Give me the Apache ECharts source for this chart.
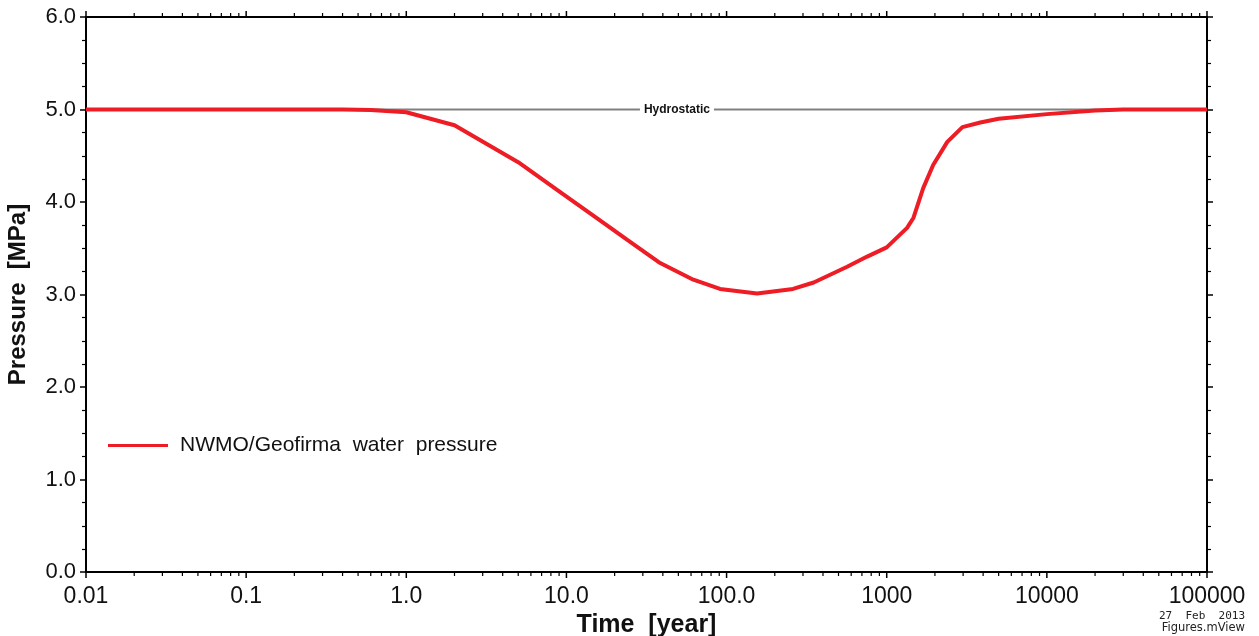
<!DOCTYPE html>
<html>
<head>
<meta charset="utf-8">
<script src="https://cdn.jsdelivr.net/npm/echarts@6/dist/echarts.min.js"></script>
<style>
html,body{margin:0;padding:0;background:#fff;}
#chart{width:1259px;height:636px;}
</style>
</head>
<body>
<div id="chart"></div>
<script>
// ---- data ----
const times = [0.01, 0.1, 0.4, 0.6, 1.0, 2.0, 5.0, 9.1, 14.5, 24, 38.5, 62, 91, 155, 260, 350, 566, 755, 1000, 1340, 1470, 1690, 1950, 2390, 2970, 3840, 5000, 10000, 20000, 30000, 100000];
const pressure = [5.0, 5.0, 5.0, 4.995, 4.97, 4.83, 4.43, 4.11, 3.86, 3.59, 3.34, 3.16, 3.06, 3.01, 3.06, 3.13, 3.30, 3.41, 3.51, 3.72, 3.83, 4.15, 4.40, 4.65, 4.81, 4.86, 4.90, 4.95, 4.99, 5.0, 5.0];
const hydrostaticValue = 5.0;
const hydrostaticLabelTime = 49;
const xTickLabels = {'-2':'0.01','-1':'0.1','0':'1.0','1':'10.0','2':'100.0','3':'1000','4':'10000','5':'100000'};
const yTickLabels = ['0.0','1.0','2.0','3.0','4.0','5.0','6.0'];
const seriesName = 'NWMO/Geofirma  water  pressure';
const xTitle = 'Time  [year]';
const yTitle = 'Pressure  [MPa]';

// tick positions for the top/bottom log-axis marks (decades + 2..9 per decade)
const xTickMarks = [];
for (let e = -2; e <= 5; e++) {
  xTickMarks.push([Math.pow(10, e), 1]);
  if (e < 5) for (let m = 2; m <= 9; m++) xTickMarks.push([m * Math.pow(10, e), 0]);
}

const chart = echarts.init(document.getElementById('chart'));
const FONT = '"Liberation Sans", Arial, sans-serif';
const axisLine = {show: true, lineStyle: {color: '#000', width: 2}};
const majorTick = {show: true, inside: false, length: 6, lineStyle: {color: '#000', width: 1.5}};

const option = {
  backgroundColor: '#fff',
  animation: false,
  grid: {left: 86, right: 52, top: 17, bottom: 64, containLabel: false, outerBoundsMode: 'none',
         show: true, borderColor: '#000', borderWidth: 2, backgroundColor: 'transparent'},
  legend: {
    data: [seriesName],
    left: 103, top: 430,
    icon: 'rect', itemWidth: 60, itemHeight: 3,
    textStyle: {fontFamily: FONT, fontSize: 21, color: '#111', padding: [0, 0, 0, 7]}
  },
  xAxis: {
    type: 'log', logBase: 10, min: 0.01, max: 100000, splitNumber: 7,
    position: 'bottom',
    axisLine: axisLine,
    axisTick: {show: false},
    splitLine: {show: false},
    axisLabel: {
      fontFamily: FONT, fontSize: 23, color: '#111', margin: 13,
      formatter: v => xTickLabels[String(Math.round(Math.log10(v)))] || ''
    },
    name: xTitle, nameLocation: 'middle', nameGap: 35,
    nameTextStyle: {fontFamily: FONT, fontSize: 25, fontWeight: 'bold', color: '#111'}
  },
  yAxis: [{
    type: 'value', min: 0, max: 6, interval: 1,
    position: 'left',
    axisLine: axisLine,
    axisTick: majorTick,
    minorTick: {show: true, splitNumber: 4, length: 4, lineStyle: {color: '#000', width: 1.2}},
    splitLine: {show: false},
    axisLabel: {
      fontFamily: FONT, fontSize: 22, color: '#111', margin: 10,
      formatter: v => yTickLabels[Math.round(v)]
    },
    name: yTitle, nameLocation: 'middle', nameGap: 56,
    nameTextStyle: {fontFamily: FONT, fontSize: 24, fontWeight: 'bold', color: '#111'}
  }, {
    type: 'value', min: 0, max: 6, interval: 1,
    position: 'right',
    axisLine: axisLine,
    axisTick: majorTick,
    minorTick: {show: true, splitNumber: 4, length: 4, lineStyle: {color: '#000', width: 1.2}},
    splitLine: {show: false},
    axisLabel: {show: false}
  }],
  series: [{
    name: 'Hydrostatic',
    type: 'line',
    xAxisIndex: 0, yAxisIndex: 0,
    data: [[times[0], hydrostaticValue], [times[times.length - 1], hydrostaticValue]],
    symbol: 'none',
    lineStyle: {color: '#808080', width: 2},
    z: 2,
    markPoint: {
      symbol: 'rect', symbolSize: 0,
      data: [{coord: [hydrostaticLabelTime, hydrostaticValue], value: 'Hydrostatic'}],
      label: {
        show: true, position: 'inside', formatter: 'Hydrostatic',
        fontFamily: FONT, fontSize: 12, fontWeight: 'bold', color: '#111',
        backgroundColor: '#fff', padding: [1, 4]
      }
    }
  }, {
    name: seriesName,
    type: 'line',
    xAxisIndex: 0, yAxisIndex: 0,
    data: times.map((t, i) => [t, pressure[i]]),
    symbol: 'none',
    lineStyle: {color: '#ee1c25', width: 4},
    itemStyle: {color: '#ee1c25'},
    z: 3
  }, {
    type: 'custom',
    name: 'xTicks',
    xAxisIndex: 0, yAxisIndex: 0,
    data: xTickMarks,
    clip: false,
    silent: true,
    renderItem: function (params, api) {
      const v = api.value(0);
      const len = api.value(1) ? 6 : 4;
      const b = api.coord([v, 0]);
      const t = api.coord([v, 6]);
      const st = {stroke: '#000', lineWidth: api.value(1) ? 1.5 : 1.2};
      return {type: 'group', children: [
        {type: 'line', shape: {x1: b[0], y1: b[1], x2: b[0], y2: b[1] + len}, style: st},
        {type: 'line', shape: {x1: t[0], y1: t[1], x2: t[0], y2: t[1] - len}, style: st}
      ]};
    },
    z: 5
  }],
  graphic: [
    {type: 'text', right: 14, top: 611, style: {text: '27  Feb  2013', font: '11px "DejaVu Sans Mono", monospace', fill: '#222', textAlign: 'right'}},
    {type: 'text', right: 14, top: 622, style: {text: 'Figures.mView', font: '11.5px "DejaVu Sans", sans-serif', fill: '#222', textAlign: 'right'}}
  ]
};
chart.setOption(option);
</script>
</body>
</html>
